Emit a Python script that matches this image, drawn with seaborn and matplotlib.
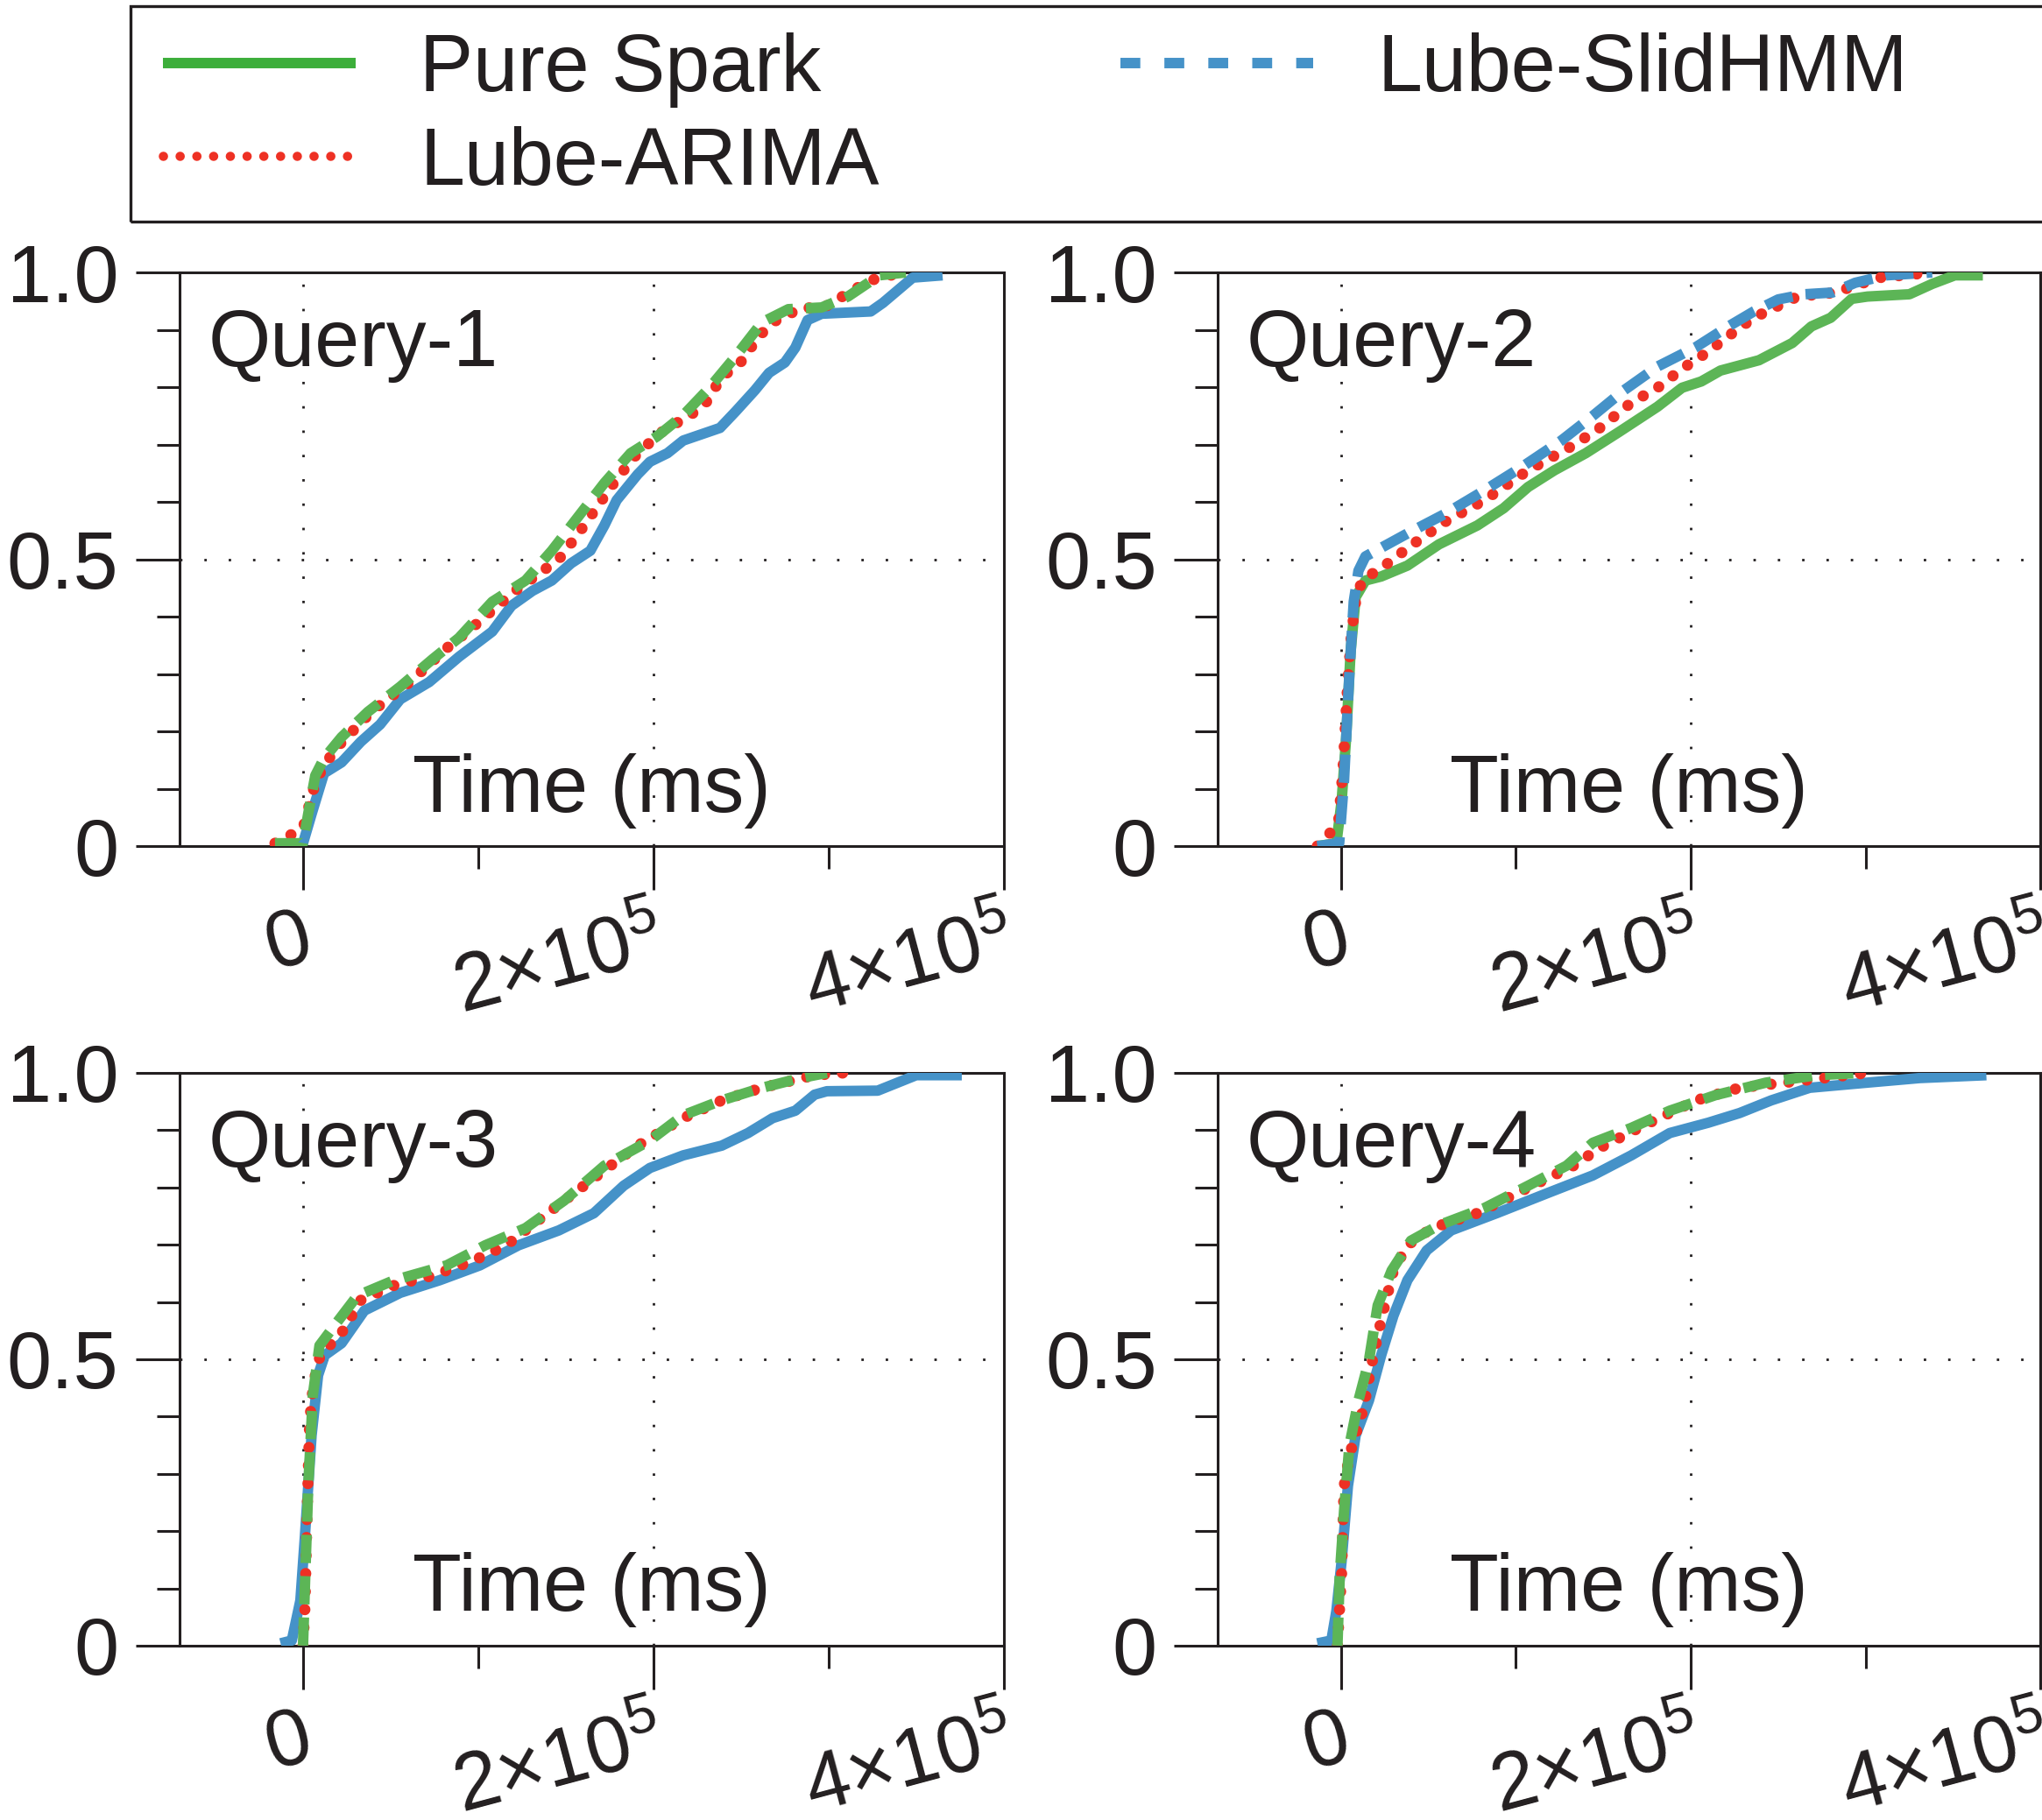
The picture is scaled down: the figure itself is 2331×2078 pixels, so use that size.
"""
plot.py
-------
CDF of query completion time for Pure Spark vs Lube-ARIMA vs Lube-SlidHMM,
one panel per query. Curves read off the published figure.
"""

import numpy as np
import matplotlib
matplotlib.use("Agg")
import matplotlib.pyplot as plt
from matplotlib.lines import Line2D
from matplotlib.patches import Rectangle
from matplotlib.ticker import FixedLocator, MultipleLocator
from matplotlib.transforms import ScaledTranslation
import seaborn as sns

# ---- data (x in ms, y = CDF) ----
q1_solid_x = [-16000, 0, 5000, 12000, 22000, 33000, 44000, 55500, 72000, 89000, 108000,
              119000, 131000, 142000, 153000, 164000, 172000, 179000, 191000, 198000,
              208000, 217000, 238000, 247000, 258000, 266000, 275000, 281000, 288000,
              296000, 324000, 331000, 348000, 365000]
q1_solid_y = [0.0, 0.005, 0.057, 0.127, 0.146, 0.182, 0.212, 0.256, 0.286, 0.33, 0.374,
              0.419, 0.445, 0.463, 0.493, 0.515, 0.559, 0.603, 0.648, 0.67,
              0.685, 0.707, 0.729, 0.758, 0.795, 0.825, 0.843, 0.869, 0.917,
              0.928, 0.932, 0.947, 0.991, 0.995]
q1_dash_x = [-16000, 0, 3000, 7000, 12000, 22000, 37000, 55500, 74000, 89000, 108000,
             127000, 142000, 157000, 172000, 187000, 202000, 217000, 232000, 247000,
             262000, 277000, 296000, 311000, 329000, 344000]
q1_dash_y = [0.005, 0.005, 0.057, 0.123, 0.153, 0.19, 0.234, 0.278, 0.326, 0.363, 0.426,
             0.463, 0.515, 0.574, 0.633, 0.685, 0.714, 0.751, 0.799, 0.854,
             0.913, 0.936, 0.939, 0.958, 0.995, 1.0]
q1_dot_x = [-16000, 0, 7500, 18000, 39000, 61000, 82000, 97000, 121000, 136000, 146000,
            157000, 168000, 179000, 191000, 206000, 221000, 230000, 239000, 249000,
            260000, 268000, 283000, 301000, 311000, 328000, 344000]
q1_dot_y = [0.005, 0.031, 0.116, 0.168, 0.234, 0.286, 0.345, 0.382, 0.445, 0.478, 0.5,
            0.544, 0.592, 0.64, 0.685, 0.725, 0.751, 0.773, 0.818, 0.84,
            0.888, 0.913, 0.936, 0.943, 0.965, 0.991, 1.0]

q2_solid_x = [-13500, -2600, 400, 3000, 5500, 8400, 14000, 23000, 38000, 56000, 78000,
              93000, 107000, 122000, 140000, 159000, 181000, 195000, 206000, 217000,
              239000, 258000, 269000, 280000, 292000, 301000, 325000, 338000, 351000, 367000]
q2_solid_y = [0.0, 0.005, 0.079, 0.19, 0.338, 0.434, 0.463, 0.47, 0.489, 0.526, 0.559,
              0.589, 0.626, 0.655, 0.685, 0.722, 0.766, 0.799, 0.81, 0.829,
              0.847, 0.877, 0.906, 0.921, 0.954, 0.958, 0.962, 0.98, 0.995, 0.995]
q2_dash_x = [-13500, -1000, 1800, 4800, 7300, 10000, 14000, 23000, 38000, 60000, 82000,
             104000, 126000, 144000, 162000, 181000, 203000, 221000, 236000, 250000,
             265000, 281000, 294000, 312000, 338000]
q2_dash_y = [0.0, 0.005, 0.116, 0.3, 0.426, 0.48, 0.505, 0.52, 0.545, 0.58, 0.62,
             0.662, 0.707, 0.75, 0.795, 0.836, 0.87, 0.905, 0.932, 0.953,
             0.962, 0.965, 0.982, 0.995, 1.0]
q2_dot_x = [-13500, -1500, 1100, 3700, 5900, 8400, 12000, 25000, 41000, 60000, 82000,
            107000, 133000, 148000, 166000, 181000, 195000, 210000, 221000, 236000,
            261000, 283000, 290000, 308000, 338000]
q2_dot_y = [0.0, 0.038, 0.131, 0.275, 0.367, 0.426, 0.463, 0.489, 0.526, 0.566, 0.603,
            0.655, 0.699, 0.729, 0.773, 0.799, 0.832, 0.862, 0.888, 0.921,
            0.958, 0.965, 0.973, 0.991, 1.0]

q3_solid_x = [-12800, -6400, -1500, 1100, 4900, 8600, 12400, 22000, 35000, 55500, 78000,
              101000, 123000, 146000, 166000, 183000, 198000, 217000, 239000, 254000,
              268000, 281000, 292000, 299000, 328000, 350000, 376000]
q3_solid_y = [0.004, 0.009, 0.079, 0.192, 0.367, 0.472, 0.507, 0.528, 0.585, 0.616, 0.638,
              0.664, 0.699, 0.725, 0.755, 0.803, 0.834, 0.856, 0.873, 0.895,
              0.921, 0.934, 0.962, 0.968, 0.969, 0.996, 0.996]
q3_dash_x = [0, 1100, 3000, 5600, 9400, 18000, 31000, 52000, 82000, 104000, 127000,
             149000, 172000, 198000, 217000, 239000, 262000, 284000, 299000]
q3_dash_y = [0.0, 0.105, 0.279, 0.437, 0.524, 0.559, 0.611, 0.638, 0.664, 0.699, 0.729,
             0.777, 0.838, 0.882, 0.926, 0.952, 0.974, 0.991, 1.0]
q3_dot_x = [0, 1100, 2300, 3800, 6000, 9800, 22000, 33000, 52000, 74000, 97000,
            116000, 134000, 153000, 172000, 191000, 217000, 239000, 262000, 292000, 309000]
q3_dot_y = [0.0, 0.066, 0.227, 0.393, 0.459, 0.507, 0.546, 0.603, 0.629, 0.646, 0.672,
            0.699, 0.742, 0.786, 0.83, 0.873, 0.921, 0.952, 0.974, 0.996, 1.0]

q4_solid_x = [-13500, -5500, -2600, 400, 4000, 8400, 16000, 23000, 30000, 38000, 49000,
              63000, 89000, 118000, 144000, 166000, 188000, 210000, 228000, 246000,
              268000, 301000, 331000, 369000]
q4_solid_y = [0.004, 0.009, 0.061, 0.148, 0.279, 0.367, 0.428, 0.507, 0.576, 0.638, 0.69,
              0.725, 0.755, 0.79, 0.821, 0.856, 0.895, 0.913, 0.93, 0.952,
              0.974, 0.983, 0.991, 0.996]
q4_dash_x = [-2000, -700, 1800, 4800, 10000, 16000, 21000, 29000, 40000, 56000, 82000,
             107000, 129000, 144000, 166000, 188000, 214000, 243000, 272000, 298000]
q4_dash_y = [0.0, 0.122, 0.236, 0.349, 0.428, 0.498, 0.594, 0.655, 0.707, 0.734, 0.764,
             0.803, 0.838, 0.878, 0.904, 0.934, 0.961, 0.983, 0.996, 1.0]
q4_dot_x = [-2000, 400, 1800, 4800, 13000, 18000, 23000, 30000, 38000, 52000, 78000,
            104000, 133000, 148000, 173000, 203000, 228000, 265000, 301000]
q4_dot_y = [0.0, 0.127, 0.279, 0.332, 0.415, 0.498, 0.568, 0.655, 0.699, 0.729, 0.755,
            0.795, 0.838, 0.869, 0.908, 0.952, 0.974, 0.987, 1.0]

panel_titles = ["Query-1", "Query-2", "Query-3", "Query-4"]
legend_labels = ["Pure Spark", "Lube-ARIMA", "Lube-SlidHMM"]
x_tick_labels = ["0", r"$2{\times}10^5$", r"$4{\times}10^5$"]
y_tick_labels = ["0", "0.5", "1.0"]

BLUE = "#4592c8"
GREEN = "#5cb556"
RED = "#ee3124"
LEG_GREEN = "#3cae3a"
INK = "#231f20"

sns.set_theme(style="ticks")
plt.rcParams["font.family"] = ["Liberation Sans", "DejaVu Sans"]
plt.rcParams["mathtext.fontset"] = "custom"
plt.rcParams["mathtext.rm"] = "Liberation Sans"
plt.rcParams["mathtext.it"] = "Liberation Sans"
plt.rcParams["mathtext.default"] = "regular"

FS = 33
LW = 4.3

fig = plt.figure(figsize=(11.655, 10.39), dpi=200)
positions = [
    [0.0879, 0.5351, 0.4037, 0.3152],
    [0.5963, 0.5351, 0.4030, 0.3152],
    [0.0879, 0.0958, 0.4037, 0.3147],
    [0.5963, 0.0958, 0.4030, 0.3147],
]

# (solid, dotted, dashed) per panel -> (x, y, colour)
panels = [
    ((q1_solid_x, q1_solid_y, BLUE), (q1_dot_x, q1_dot_y), (q1_dash_x, q1_dash_y, GREEN)),
    ((q2_solid_x, q2_solid_y, GREEN), (q2_dot_x, q2_dot_y), (q2_dash_x, q2_dash_y, BLUE)),
    ((q3_solid_x, q3_solid_y, BLUE), (q3_dot_x, q3_dot_y), (q3_dash_x, q3_dash_y, GREEN)),
    ((q4_solid_x, q4_solid_y, BLUE), (q4_dot_x, q4_dot_y), (q4_dash_x, q4_dash_y, GREEN)),
]

label_shift = ScaledTranslation(15 / 200, 0, fig.dpi_scale_trans)
axes = []
for pos, title, (solid, dot, dash) in zip(positions, panel_titles, panels):
    ax = fig.add_axes(pos)
    axes.append(ax)
    sns.lineplot(x=solid[0], y=solid[1], ax=ax, color=solid[2], linewidth=LW,
                 sort=False, estimator=None, solid_capstyle="butt", zorder=3)
    sns.lineplot(x=dot[0], y=dot[1], ax=ax, color=RED, linewidth=4.6,
                 sort=False, estimator=None, linestyle=(0, (0.01, 1.6)),
                 dash_capstyle="round", zorder=4)
    sns.lineplot(x=dash[0], y=dash[1], ax=ax, color=dash[2], linewidth=LW,
                 sort=False, estimator=None, linestyle=(0, (2.7, 1.25)),
                 dash_capstyle="butt", zorder=5)

    ax.set_xlim(-70500, 400000)
    ax.set_ylim(0, 1.0)
    ax.xaxis.set_major_locator(FixedLocator([0, 200000, 400000]))
    ax.xaxis.set_minor_locator(FixedLocator([100000, 300000]))
    ax.yaxis.set_major_locator(FixedLocator([0, 0.5, 1.0]))
    ax.yaxis.set_minor_locator(MultipleLocator(0.1))
    ax.set_xticklabels(x_tick_labels, rotation=15, ha="right", va="baseline",
                       rotation_mode="anchor", fontsize=FS)
    ax.set_yticklabels(y_tick_labels, fontsize=FS)
    ax.tick_params(axis="x", which="major", length=18, width=1.1, color=INK,
                   labelcolor=INK, pad=28)
    ax.tick_params(axis="y", which="major", length=18, width=1.1, color=INK,
                   labelcolor=INK, pad=7)
    ax.tick_params(axis="both", which="minor", length=9.5, width=1.1, color=INK)
    ax.grid(True, which="major", color=INK, linestyle=(0, (1, 9)), linewidth=1.0)
    for sp in ax.spines.values():
        sp.set_visible(True)
        sp.set_linewidth(1.1)
        sp.set_color(INK)
    ax.set_xlabel("")
    ax.set_ylabel("")
    ax.text(0.035, 0.873, title, transform=ax.transAxes, fontsize=FS,
            ha="left", va="center", color=INK)
    ax.text(0.5, 0.097, "Time (ms)", transform=ax.transAxes, fontsize=FS,
            ha="center", va="center", color=INK)

handles = [
    Line2D([], [], color=LEG_GREEN, linewidth=LW, solid_capstyle="butt"),
    Line2D([], [], color=RED, linewidth=3.8, linestyle=(0, (0.01, 1.8)),
           dash_capstyle="round"),
    Line2D([], [], color=BLUE, linewidth=LW, linestyle=(0, (1.9, 2.3)),
           dash_capstyle="butt"),
]
fig.legend(handles, legend_labels, loc="upper left", bbox_to_anchor=(0.0798, 0.982),
           ncol=2, frameon=False, fontsize=FS, handlelength=2.4, handletextpad=0.8,
           columnspacing=3.0, labelspacing=0.22, borderpad=0, borderaxespad=0,
           labelcolor=INK)
fig.add_artist(Rectangle((0.0639, 0.8782), 1.0, 0.1184, transform=fig.transFigure,
                         fill=False, edgecolor=INK, linewidth=1.2))

# nudge the slanted x tick labels to the right, as in the original
fig.canvas.draw()
for ax in axes:
    for lab in ax.get_xticklabels():
        lab.set_transform(lab.get_transform() + label_shift)

fig.savefig("out.png", dpi=200, facecolor="white")
